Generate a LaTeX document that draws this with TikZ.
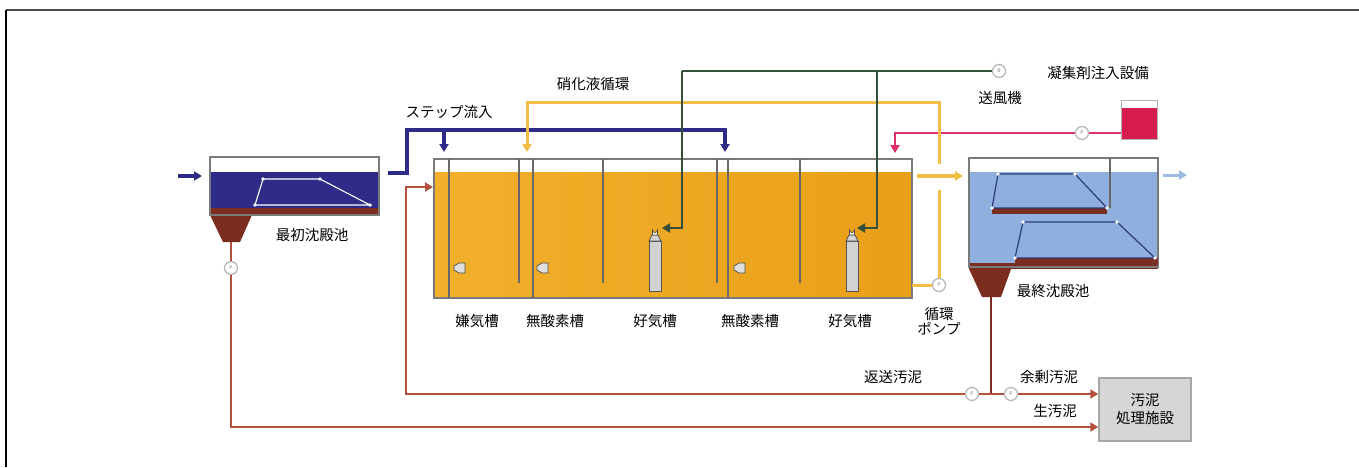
\documentclass[tikz,border=0pt]{standalone}
\usepackage{fontspec}
\setmainfont{Noto Sans CJK JP}
\usetikzlibrary{arrows.meta}
\definecolor{navy}{HTML}{2E2C88}
\definecolor{tankorange}{HTML}{F2B02A}
\definecolor{tankorangeD}{HTML}{EA9F1A}
\definecolor{recyc}{HTML}{F2BE45}
\definecolor{airgreen}{HTML}{33503A}
\definecolor{coag}{HTML}{E0306A}
\definecolor{coagtank}{HTML}{D71C4E}
\definecolor{clearblue}{HTML}{8FB0DE}
\definecolor{outblue}{HTML}{9DBBE3}
\definecolor{sludge}{HTML}{7B2E1F}
\definecolor{sludgeline}{HTML}{B5503D}
\definecolor{wallgray}{HTML}{7A7A7A}
\definecolor{platenavy}{HTML}{2C3A78}
\definecolor{boxgray}{HTML}{D6D6D6}
\begin{document}
\begin{tikzpicture}[x=1pt,y=-1pt,
  tankline/.style={draw=wallgray,line width=1.4pt},
  wall/.style={draw=wallgray!85!black,line width=1.1pt},
  tip/.style={-{Triangle[length=8pt,width=9pt]}},
  navyflow/.style={draw=navy,line width=4pt},
  recycflow/.style={draw=recyc,line width=3pt},
  airflow/.style={draw=airgreen,line width=2.8pt},
  coagflow/.style={draw=coag,line width=2.6pt},
  sludgeflow/.style={draw=sludgeline,line width=2.8pt},
  plate/.style={draw=platenavy,line width=1.2pt},
  lbl/.style={font=\fontsize{14.5}{16}\selectfont,inner sep=0pt},
  pump/.style={circle,draw=gray!55,fill=white,line width=1.3pt,minimum size=13pt,
    inner sep=0pt,font=\fontsize{5}{5}\selectfont,text=gray},
  diffuser/.pic={
    \filldraw[fill=gray!35,draw=gray!65!black,line width=0.8pt]
      (-6,0) rectangle (6,-50);
    \filldraw[fill=gray!35,draw=gray!65!black,line width=0.8pt]
      (-6,-50) -- (-3,-56) -- (3,-56) -- (6,-50) -- cycle;
    \filldraw[fill=white!85!yellow,draw=gray!65!black,line width=0.8pt]
      (-2.5,-56) -- (-2.5,-61) arc[start angle=180,end angle=0,radius=2.5] -- (2.5,-56) -- cycle;
  },
  mixer/.pic={
    \filldraw[fill=gray!25,draw=gray!60!black,line width=0.7pt]
      (-6,-2) -- (-1,-5) -- (5,-5) -- (5,5) -- (-1,5) -- (-6,2) -- cycle;
  }
]
\useasboundingbox (0,0) rectangle (1359,467);

% frame
\draw[line width=2pt,draw=black!70] (6,10) -- (1359,10);
\draw[line width=1.6pt,draw=black] (6,10) -- (6,467);

% ---------- primary settling tank ----------
\fill[white] (210,157) rectangle (379,172);
\fill[navy] (210,172) rectangle (379,208);
\fill[sludge] (210,208) rectangle (379,215);
\fill[sludge] (210,215) -- (252,215) -- (240,242) -- (223,242) -- cycle;
\draw[tankline] (210,157) rectangle (379,215);
\draw[white,line width=1.1pt] (263,179) -- (320,179) -- (370,205) -- (255,205) -- cycle;
\foreach \p in {(263,179),(320,179),(370,205),(255,205)} \fill[white] \p circle (1.8);
\coordinate (psHopper) at (231,242);
\coordinate (psIn) at (178,176);
\coordinate (psInEnd) at (202,176);
\coordinate (psOut) at (388,173);
\node[lbl] (psLabel) at (312,235) {最初沈殿池};

% ---------- biological reactor ----------
\fill[white] (434,159) rectangle (912,172);
\shade[left color=tankorange,right color=tankorangeD] (434,172) rectangle (912,298);
\draw[tankline] (434,159) rectangle (912,298);
\foreach \x in {449,533,728} \draw[wall] (\x,159) -- (\x,298);
\foreach \x in {519,603,717,800} \draw[wall] (\x,159) -- (\x,283);
\pic at (460,268) {mixer};
\pic at (543,268) {mixer};
\pic at (740,268) {mixer};
\pic at (655,291) {diffuser};
\pic at (852,291) {diffuser};
\node[lbl] (z1) at (477,321) {嫌気槽};
\node[lbl] (z2) at (555,321) {無酸素槽};
\node[lbl] (z3) at (655,321) {好気槽};
\node[lbl] (z4) at (750,321) {無酸素槽};
\node[lbl] (z5) at (850,321) {好気槽};

% ---------- final settling tank ----------
\fill[white] (969,158) rectangle (1158,172);
\fill[clearblue] (969,172) rectangle (1158,265);
\fill[sludge] (969,263) rectangle (1158,269);
\fill[sludge] (969,269) -- (1011,269) -- (1001,297) -- (982,297) -- cycle;
\draw[tankline] (969,158) rectangle (1158,267);
\draw[wall] (1110,158) -- (1110,208);
\fill[sludge] (992,208) rectangle (1107,214);
\draw[plate] (998,174) -- (1075,174) -- (1107,208) -- (992,208) -- cycle;
\fill[sludge] (1015,258) rectangle (1158,265);
\draw[plate] (1023,222) -- (1117,222) -- (1155,258) -- (1015,258) -- cycle;
\foreach \p in {(998,174),(1075,174),(1107,208),(992,208),(1023,222),(1117,222),(1155,258),(1015,258)}
  \fill[white] \p circle (1.8);
\coordinate (fsHopper) at (991,297);
\node[lbl] (fsLabel) at (1053,291) {最終沈殿池};

% ---------- sludge treatment ----------
\node[draw=gray!70,fill=boxgray,line width=1.5pt,minimum width=92pt,minimum height=63pt,
  align=center,inner sep=0pt,font=\fontsize{14.5}{18}\selectfont] (sto) at (1145,409.5) {汚泥\\処理施設};

% ---------- pumps and blower ----------
\node[pump] (pPrim) at (231,268) {P};
\node[pump] (pRet) at (972,394) {P};
\node[pump] (pEx) at (1011,394) {P};
\node[pump] (pRec) at (939,285) {P};
\node[pump] (pCoag) at (1082,133) {P};
\node[pump] (blower) at (999,71) {B};
\node[lbl] (blowerLbl) at (1000,98) {送風機};

% ---------- coagulant dosing ----------
\fill[white] (1121,100) rectangle (1157,108);
\fill[coagtank] (1121,108) rectangle (1157,139);
\draw[draw=gray!60,line width=1pt] (1121,100) rectangle (1157,139);
\coordinate (coagOut) at (1121,133);
\node[lbl] (coagLbl) at (1098,73) {凝集剤注入設備};
\draw[coagflow] (coagOut) -- (pCoag);
\draw[coagflow,tip] (pCoag) -- (895,133) -- (895,153);

% ---------- influent and step feed ----------
\draw[navyflow,tip] (psIn) -- (psInEnd);
\draw[navyflow] (psOut) -- (407,173) -- (407,130) -- (725,130);
\draw[navyflow,tip] (725,128) -- (725,152);
\draw[navyflow,tip] (444,130) -- (444,152);
\node[lbl] (stepLbl) at (449,112) {ステップ流入};

% ---------- nitrified liquor recycle ----------
\draw[recycflow] (pRec) -- (912,285);
\draw[recycflow] (pRec) -- (939,190);
\draw[recycflow,tip] (939,164) -- (939,102) -- (527,102) -- (527,152);
\node[lbl] (recLbl) at (593,84) {硝化液循環};
\node[lbl,align=center,font=\fontsize{14.5}{15}\selectfont] (recPumpLbl) at (939,321) {循環\\ポンプ};

% mixed liquor to final settling tank
\draw[recycflow,line width=3.4pt,tip] (917,176) -- (963,176);
% treated effluent
\draw[draw=outblue,line width=3pt,tip] (1163,175) -- (1187,175);

% ---------- air supply ----------
\draw[airflow] (blower) -- (682,71);
\draw[airflow,tip] (682,71) -- (682,228) -- (662,228);
\draw[airflow,tip] (877,71) -- (877,228) -- (857,228);

% ---------- sludge lines ----------
\draw[sludgeflow] (psHopper) -- (pPrim);
\draw[sludgeflow,tip] (pPrim) -- (231,427) -- (sto.west |- 0,427);
\node[lbl] (rawLbl) at (1055,411) {生汚泥};
\draw[draw=sludge,line width=2.8pt] (fsHopper) -- (991,394);
\draw[sludgeflow] (991,394) -- (pRet);
\draw[sludgeflow,tip] (pRet) -- (406,394) -- (406,187) -- (433,187);
\draw[sludgeflow] (991,394) -- (pEx);
\draw[sludgeflow,tip] (pEx) -- (sto.west |- 0,394);
\node[lbl] (retLbl) at (893,377) {返送汚泥};
\node[lbl] (exLbl) at (1049,377) {余剰汚泥};
\end{tikzpicture}
\end{document}
